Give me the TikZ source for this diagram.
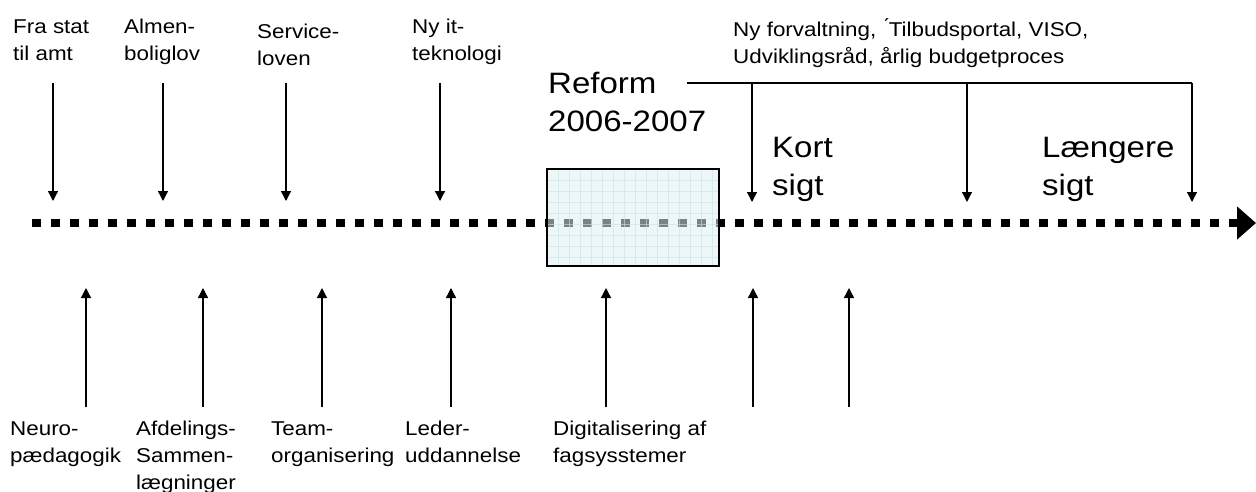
\documentclass[tikz,border=0pt]{standalone}
\usepackage{fontspec}
\setmainfont[FakeStretch=1.12]{Liberation Sans}
\usetikzlibrary{arrows.meta,positioning}

\definecolor{reformfill}{RGB}{222,240,243}
\definecolor{reformgrid}{RGB}{200,228,233}

\begin{document}
\begin{tikzpicture}[x=1pt, y=-1pt,
    lbl/.style={anchor=base west, inner sep=0pt, align=left, font=\fontsize{20}{27}\selectfont},
    big/.style={anchor=base west, inner sep=0pt, align=left, font=\fontsize{29.5}{39}\selectfont},
    arr/.style={-{Triangle[length=10pt, width=10pt]}, line width=1.3pt},
    tline/.style={line width=8.5pt, dash pattern=on 8.5pt off 10.5pt, -{Triangle[length=19pt, width=32pt]}}
]
\useasboundingbox (0,0) rectangle (1256,492);

% tidslinje
\coordinate (tstart) at (32,223);
\coordinate (tend) at (1256,223);
\draw[tline] (tstart) -- (tend);

% reform-boks (nodens anker er sidste linjes grundlinje)
\fill[reformfill, fill opacity=0.55] (547,169) rectangle (719,266);
\foreach \gx in {558,569,...,714} \draw[reformgrid, line width=0.5pt, draw opacity=0.6] (\gx,169) -- (\gx,266);
\foreach \gy in {180,191,...,262} \draw[reformgrid, line width=0.5pt, draw opacity=0.6] (547,\gy) -- (719,\gy);
\node[draw, line width=1.5pt, minimum width=172pt, minimum height=97pt, inner sep=0pt] (box) at (633,217.5) {};

% over linjen
\node[lbl] (stat) at (13,61) {Fra stat\\til amt};
\node[lbl] (almen) at (124,61) {Almen-\\boliglov};
\node[lbl] (serv) at (257,66) {Service-\\loven};
\node[lbl] (nyit) at (412,61) {Ny it-\\teknologi};
\node[lbl] (forv) at (733,64) {Ny forvaltning, \'{}Tilbudsportal, VISO,\\Udviklingsråd, årlig budgetproces};
\node[big] (reform) at (548,132) {Reform\\2006-2007};
\node[big] (kort) at (772,196) {Kort\\sigt};
\node[big] (laeng) at (1042,196) {Længere\\sigt};

\foreach \n/\xx in {1/53,2/163,3/286,4/440} {
  \coordinate (t\n) at (\xx,83);
  \coordinate (p\n) at (\xx,201);
  \draw[arr] (t\n) -- (p\n);
}

% klamme fra reform
\coordinate (k0) at (687,83);
\coordinate (k3) at (1192,83);
\coordinate (k1) at (752,83);
\coordinate (k2) at (967,83);
\draw[line width=1.3pt] (k0) -- (k3);
\draw[arr] (k1) -- (752,202);
\draw[arr] (k2) -- (967,202);
\draw[arr] (k3) -- (1192,202);

% under linjen
\node[lbl] (neuro) at (10,462) {Neuro-\\pædagogik};
\node[lbl] (afd) at (136,489) {Afdelings-\\Sammen-\\lægninger};
\node[lbl] (team) at (271,462) {Team-\\organisering};
\node[lbl] (leder) at (405,462) {Leder-\\uddannelse};
\node[lbl] (digi) at (553,462) {Digitalisering af\\fagsysstemer};

\foreach \n/\xx in {1/86,2/203,3/322,4/451,5/606,6/753,7/849} {
  \coordinate (b\n) at (\xx,407);
  \coordinate (u\n) at (\xx,288);
  \draw[arr] (b\n) -- (u\n);
}
\end{tikzpicture}
\end{document}
